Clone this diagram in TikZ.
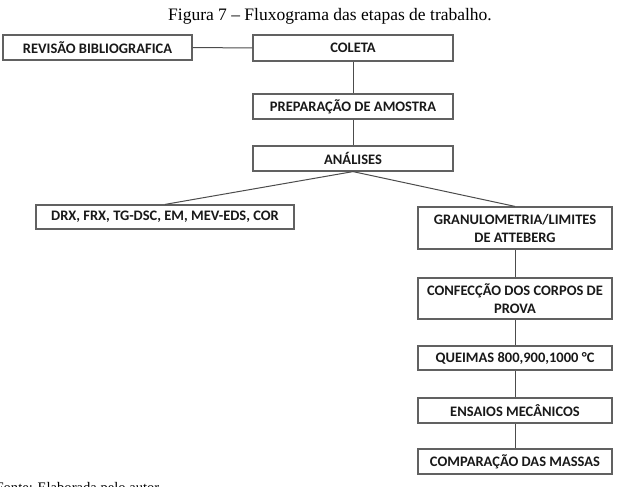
\documentclass[tikz,border=0pt]{standalone}
\usepackage{fontspec}
\setmainfont{Liberation Serif}
\newfontfamily\boxfont{Carlito}
\begin{document}
\begin{tikzpicture}[x=1pt,y=-1pt,
  stepbox/.style={draw=black!62, line width=1.2pt, fill=white, inner sep=0pt,
    font=\boxfont\bfseries\fontsize{14.5}{18}\selectfont, text=black!90, align=center},
  link/.style={draw=black!70, line width=1pt}]
\useasboundingbox (0,0) rectangle (624,487);
\node[font=\fontsize{17.5}{20}\selectfont, anchor=base] (cap) at (330,21) {Figura 7 -- Fluxograma das etapas de trabalho.};
\node[stepbox, minimum width=189pt, minimum height=25pt] (rev) at (97.5,47.5) {REVISÃO BIBLIOGRAFICA};
\node[stepbox, minimum width=200pt, minimum height=26pt] (col) at (353,48) {COLETA};
\node[stepbox, minimum width=200pt, minimum height=25pt] (prep) at (353,106.5) {PREPARAÇÃO DE AMOSTRA};
\node[stepbox, minimum width=200pt, minimum height=25pt] (ana) at (353,158.5) {ANÁLISES};
\node[stepbox, minimum width=258pt, minimum height=24pt] (drx) at (165,217) {DRX, FRX, TG-DSC, EM, MEV-EDS, COR};
\node[stepbox, minimum width=194pt, minimum height=42pt] (gran) at (515,228) {GRANULOMETRIA/LIMITES\\DE ATTEBERG};
\node[stepbox, minimum width=194pt, minimum height=41pt] (conf) at (515,298.5) {CONFECÇÃO DOS CORPOS DE\\PROVA};
\node[stepbox, minimum width=194pt, minimum height=24pt] (que) at (515,358) {QUEIMAS 800,900,1000 °C};
\node[stepbox, minimum width=194pt, minimum height=25pt] (ens) at (515,410.5) {ENSAIOS MECÂNICOS};
\node[stepbox, minimum width=194pt, minimum height=25pt] (comp) at (515,461.5) {COMPARAÇÃO DAS MASSAS};
\node[font=\fontsize{14.6}{17}\selectfont, anchor=base west] (fonte) at (-8,492) {Fonte: Elaborada pelo autor};
\draw[link] (rev.east) -- (col.west);
\draw[link] (col.south) -- (prep.north);
\draw[link] (prep.south) -- (ana.north);
\draw[link] (ana.south) -- (drx.north);
\draw[link] (ana.south) -- (gran.north);
\draw[link] (gran.south) -- (conf.north);
\draw[link] (conf.south) -- (que.north);
\draw[link] (que.south) -- (ens.north);
\draw[link] (ens.south) -- (comp.north);
\end{tikzpicture}
\end{document}
